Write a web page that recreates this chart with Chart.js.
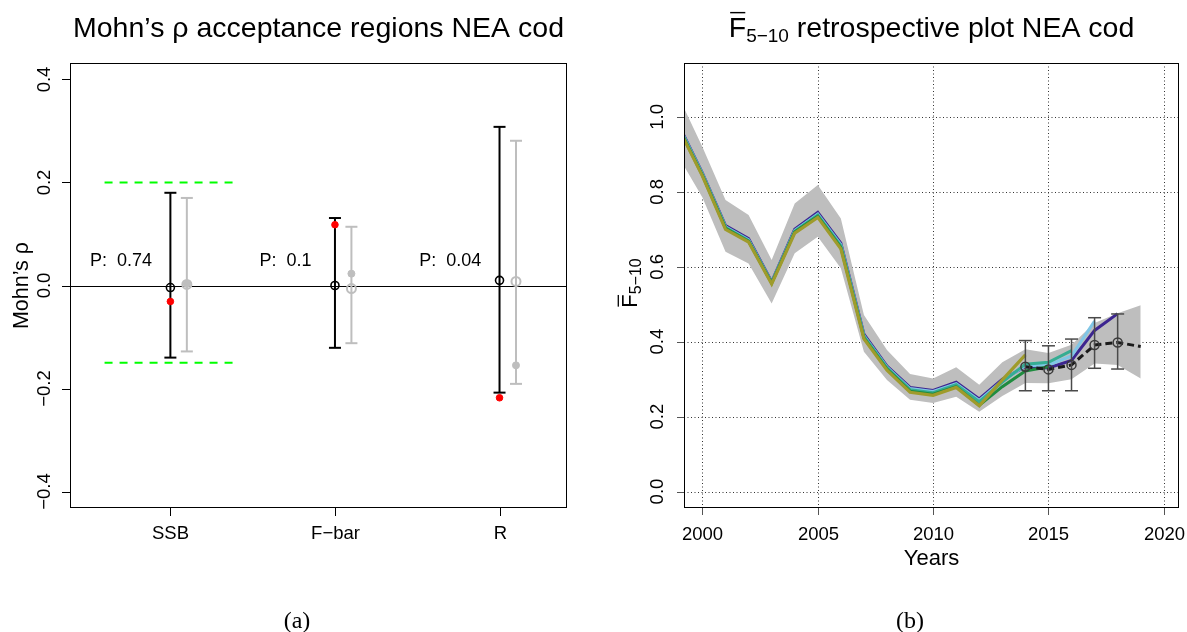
<!DOCTYPE html>
<html><head><meta charset="utf-8">
<script src="https://cdn.jsdelivr.net/npm/chart.js@4.4.1/dist/chart.umd.min.js"></script>
<style>
html,body{margin:0;padding:0;background:#fff;width:1187px;height:632px;overflow:hidden}
canvas{position:absolute;top:0}
#c1{left:0}
#c2{left:593px}
</style></head><body>
<canvas id="c1" width="593" height="632"></canvas>
<canvas id="c2" width="594" height="632"></canvas>
<script>
// ---------- Panel (a): Mohn's rho acceptance regions ----------
const categories = ['SSB', 'F\u2212bar', 'R'];
const pLabels = ['0.74', '0.1', '0.04'];
const baseHi  = [0.180, 0.131, 0.308];
const baseLo  = [-0.140, -0.121, -0.208];
const baseMid = [-0.004, 0.000, 0.010];
const baseRho = [-0.031, 0.118, -0.218];
const altHi   = [0.170, 0.114, 0.281];
const altLo   = [-0.128, -0.112, -0.191];
const altMid  = [0.002, -0.006, 0.008];
const altRho  = [0.003, 0.023, -0.155];
const acceptUpper = 0.20;
const acceptLower = -0.15;
const yTicksA = [-0.4, -0.2, 0.0, 0.2, 0.4];
const yTickLabelsA = ['\u22120.4', '\u22120.2', '0.0', '0.2', '0.4'];

// ---------- Panel (b): F-bar retrospective plot ----------
const years = [1999,2000,2001,2002,2003,2004,2005,2006,2007,2008,2009,2010,2011,2012,2013,2014,2015,2016,2017,2018,2019];
const bandHi = [1.050,0.920,0.778,0.738,0.618,0.769,0.818,0.729,0.471,0.378,0.314,0.302,0.332,0.285,0.345,0.380,0.370,0.392,0.450,0.476,0.497];
const bandLo = [0.890,0.785,0.640,0.609,0.502,0.636,0.680,0.596,0.373,0.298,0.245,0.236,0.253,0.213,0.255,0.290,0.289,0.300,0.342,0.338,0.302];
const peel2018 = [0.975,0.850,0.710,0.675,0.560,0.700,0.745,0.663,0.420,0.335,0.278,0.270,0.292,0.247,0.300,0.333,0.330,0.350,0.430,0.475];
const peel2017 = [0.972,0.848,0.707,0.672,0.558,0.697,0.741,0.659,0.416,0.332,0.275,0.267,0.288,0.243,0.296,0.336,0.338,0.362,0.455];
const peel2016 = [0.970,0.846,0.705,0.670,0.557,0.695,0.738,0.656,0.414,0.330,0.272,0.264,0.285,0.240,0.292,0.340,0.345,0.376];
const peel2015 = [0.967,0.844,0.703,0.668,0.556,0.693,0.735,0.652,0.410,0.327,0.268,0.260,0.280,0.230,0.280,0.322,0.333];
const peel2014 = [0.965,0.842,0.700,0.666,0.554,0.690,0.732,0.648,0.408,0.324,0.265,0.257,0.278,0.229,0.298,0.365];
const fullYears = [2014,2015,2016,2017,2018,2019];
const fullF = [0.333,0.326,0.338,0.391,0.398,0.387];
const errYears = [2014,2015,2016,2017,2018];
const errLo = [0.269,0.269,0.269,0.329,0.327];
const errHi = [0.403,0.389,0.407,0.464,0.474];
const xTicksB = [2000,2005,2010,2015,2020];
const xTickLabelsB = ['2000','2005','2010','2015','2020'];
const yTicksB = [0,0.2,0.4,0.6,0.8,1.0];
const yTickLabelsB = ['0.0','0.2','0.4','0.6','0.8','1.0'];

// ---------- helpers ----------
const FONT = '"Liberation Sans", Arial, Helvetica, sans-serif';
const SERIF = '"Liberation Serif", "DejaVu Serif", serif';

function layered(list){ const n = list.length; list.forEach((d,i)=>{ d.order = n - i; }); return list; }
function errBar(x, lo, hi, color, w, cap){
  return { data:[{x:x,y:lo},{x:x,y:hi}], borderColor:color, borderWidth:w, showLine:true, fill:false,
    pointStyle:'line', pointRadius:cap, pointHoverRadius:cap, pointBorderColor:color, pointBorderWidth:w, pointBackgroundColor:color };
}
function pts(xs, ys, o){
  return { data: xs.map((x,i)=>({x:x,y:ys[i]})), showLine:false, fill:false, borderWidth:0,
    pointStyle:'circle', pointRadius:o.r, pointHoverRadius:o.r, pointBorderWidth:o.bw,
    pointBorderColor:o.stroke, pointBackgroundColor:o.fillc };
}
function series(xs, ys, color, w, extra){
  return Object.assign({ data: ys.map((v,i)=>({x:xs[i],y:v})), borderColor:color, borderWidth:w,
    pointRadius:0, pointHoverRadius:0, fill:false, showLine:true }, extra||{});
}
function drawFbar(ctx, x, y, size, subSize){
  ctx.font = size + 'px ' + FONT;
  ctx.fillText('F', x, y);
  const wF = ctx.measureText('F').width;
  ctx.fillRect(x + size*0.05, y - size*0.88, wF - size*0.08, Math.max(1.3, size*0.05));
  ctx.font = subSize + 'px ' + FONT;
  ctx.fillText('5\u221210', x + wF, y + size*0.18);
  return wF + ctx.measureText('5\u221210').width;
}
function fbarWidth(ctx, size, subSize){
  ctx.font = size + 'px ' + FONT; const a = ctx.measureText('F').width;
  ctx.font = subSize + 'px ' + FONT; return a + ctx.measureText('5\u221210').width;
}

// ---------- Panel (a) ----------
const catPos = categories.map((c,i)=>i+1);
const OFF = 0.1;
const BLACK = '#000000', GREY = '#bebebe';
const dsA = [];
dsA.push(series([catPos[0]-0.4, catPos[0]+0.4], [acceptUpper, acceptUpper], '#00ff00', 2, {borderDash:[8,7]}));
dsA.push(series([catPos[0]-0.4, catPos[0]+0.4], [acceptLower, acceptLower], '#00ff00', 2, {borderDash:[8,7]}));
catPos.forEach((p,i)=>dsA.push(errBar(p+OFF, altLo[i], altHi[i], GREY, 2, 6)));
catPos.forEach((p,i)=>dsA.push(errBar(p, baseLo[i], baseHi[i], BLACK, 2, 6)));
dsA.push(pts(catPos.map(p=>p+OFF), altMid, {r:4.5, bw:2, stroke:GREY, fillc:'rgba(0,0,0,0)'}));
dsA.push(pts(catPos.map(p=>p+OFF), altRho, {r:3.5, bw:1, stroke:GREY, fillc:GREY}));
dsA.push(pts(catPos, baseMid, {r:4, bw:1.6, stroke:BLACK, fillc:'rgba(0,0,0,0)'}));
dsA.push(pts(catPos, baseRho, {r:3.3, bw:1, stroke:'#ff0000', fillc:'#ff0000'}));
layered(dsA);

const pluginA = {
  id:'decorA',
  beforeDatasetsDraw(chart){
    const {ctx, chartArea:a, scales:{y}} = chart;
    ctx.save(); ctx.strokeStyle='#000'; ctx.lineWidth=1;
    const y0 = Math.round(y.getPixelForValue(0)) + 0.5;
    ctx.beginPath(); ctx.moveTo(a.left, y0); ctx.lineTo(a.right, y0); ctx.stroke();
    ctx.restore();
  },
  afterDraw(chart){
    const {ctx, chartArea:a, scales:{x,y}} = chart;
    ctx.save();
    ctx.strokeStyle='#000'; ctx.fillStyle='#000'; ctx.lineWidth=1;
    ctx.strokeRect(a.left+0.5, a.top+0.5, a.right-a.left-1, a.bottom-a.top-1);
    yTicksA.forEach((v,i)=>{
      const py = Math.round(y.getPixelForValue(v)) + 0.5;
      ctx.beginPath(); ctx.moveTo(a.left, py); ctx.lineTo(a.left-8, py); ctx.stroke();
      ctx.save(); ctx.translate(a.left-20.5, y.getPixelForValue(v)); ctx.rotate(-Math.PI/2);
      ctx.font = '18.5px ' + FONT; ctx.textAlign='center'; ctx.textBaseline='alphabetic';
      ctx.fillText(yTickLabelsA[i], 0, 0); ctx.restore();
    });
    ctx.font = '18.5px ' + FONT; ctx.textAlign='center'; ctx.textBaseline='alphabetic';
    categories.forEach((c,i)=>{
      const px = Math.round(x.getPixelForValue(catPos[i])) + 0.5;
      ctx.beginPath(); ctx.moveTo(px, a.bottom); ctx.lineTo(px, a.bottom+8); ctx.stroke();
      ctx.fillText(c, px, a.bottom + 31);
    });
    ctx.font = '18px ' + FONT;
    pLabels.forEach((p,i)=>{
      ctx.fillText('P:  ' + p, x.getPixelForValue(catPos[i]-0.3), y.getPixelForValue(0.05) + 6.5);
    });
    ctx.save(); ctx.translate(28, (a.top+a.bottom)/2); ctx.rotate(-Math.PI/2);
    ctx.font = '21.5px ' + FONT; ctx.textAlign='center'; ctx.fillText("Mohn\u2019s \u03c1", 0, 0); ctx.restore();
    ctx.font = '28.5px ' + FONT; ctx.textAlign='center';
    ctx.fillText("Mohn\u2019s \u03c1 acceptance regions NEA cod", (a.left+a.right)/2, 37);
    ctx.font = '24px ' + SERIF; ctx.fillText('(a)', 297, 628);
    ctx.restore();
  }
};

new Chart(document.getElementById('c1'), {
  type:'line',
  data:{ datasets: dsA },
  options:{
    responsive:false, animation:false, devicePixelRatio:1, events:[],
    layout:{ padding:{ left:70, right:26, top:63, bottom:124 } },
    plugins:{ legend:{display:false}, tooltip:{enabled:false} },
    scales:{
      x:{ type:'linear', min:0.39, max:3.41, display:false },
      y:{ type:'linear', min:-0.432, max:0.432, display:false }
    }
  },
  plugins:[pluginA]
});

// ---------- Panel (b) ----------
const dsB = [];
dsB.push(series(years, bandHi, 'rgba(0,0,0,0)', 0, {fill:'+1', backgroundColor:'#bebebe'}));
dsB.push(series(years, bandLo, 'rgba(0,0,0,0)', 0));
dsB.push(series(years, peel2018, '#3c2590', 3));
dsB.push(series(years, peel2017, '#80c6e6', 3));
dsB.push(series(years, peel2016, '#35ad93', 3));
dsB.push(series(years, peel2015, '#1f8c3f', 3));
dsB.push(series(years, peel2014, '#9f9b2b', 3.2));
dsB.push(series(fullYears, fullF, '#1a1a1a', 3, {borderDash:[7,4]}));
errYears.forEach((yr,i)=>dsB.push(errBar(yr, errLo[i], errHi[i], '#4a4a4a', 1.5, 6.5)));
dsB.push(pts(errYears, fullF.slice(0, errYears.length), {r:4.5, bw:1.5, stroke:'#3a3a3a', fillc:'rgba(0,0,0,0)'}));
layered(dsB);

const pluginB = {
  id:'decorB',
  beforeDatasetsDraw(chart){
    const {ctx, chartArea:a, scales:{x,y}} = chart;
    ctx.save(); ctx.strokeStyle='#333'; ctx.lineWidth=1; ctx.setLineDash([1,2.5]);
    xTicksB.forEach(v=>{
      const px = Math.round(x.getPixelForValue(v)) + 0.5;
      ctx.beginPath(); ctx.moveTo(px, a.top); ctx.lineTo(px, a.bottom); ctx.stroke();
    });
    yTicksB.forEach(v=>{
      const py = Math.round(y.getPixelForValue(v)) + 0.5;
      ctx.beginPath(); ctx.moveTo(a.left, py); ctx.lineTo(a.right, py); ctx.stroke();
    });
    ctx.restore();
  },
  afterDraw(chart){
    const {ctx, chartArea:a, scales:{x,y}} = chart;
    ctx.save();
    ctx.strokeStyle='#000'; ctx.fillStyle='#000'; ctx.lineWidth=1;
    ctx.strokeRect(a.left+0.5, a.top+0.5, a.right-a.left-1, a.bottom-a.top-1);
    ctx.strokeStyle='#555';
    yTicksB.forEach((v,i)=>{
      const py = Math.round(y.getPixelForValue(v)) + 0.5;
      ctx.beginPath(); ctx.moveTo(a.left, py); ctx.lineTo(a.left-7, py); ctx.stroke();
      ctx.save(); ctx.translate(a.left-21.5, y.getPixelForValue(v)); ctx.rotate(-Math.PI/2);
      ctx.font = '18.5px ' + FONT; ctx.textAlign='center'; ctx.fillText(yTickLabelsB[i], 0, 0); ctx.restore();
    });
    ctx.font = '18.5px ' + FONT; ctx.textAlign='center';
    xTicksB.forEach((v,i)=>{
      const px = Math.round(x.getPixelForValue(v)) + 0.5;
      ctx.beginPath(); ctx.moveTo(px, a.bottom); ctx.lineTo(px, a.bottom+7); ctx.stroke();
      ctx.fillText(xTickLabelsB[i], px, a.bottom + 31.5);
    });
    ctx.font = '22px ' + FONT;
    ctx.fillText('Years', (a.left+a.right)/2, a.bottom + 57);
    ctx.save(); ctx.translate(44, 283); ctx.rotate(-Math.PI/2); ctx.textAlign='left';
    const wy = fbarWidth(ctx, 22, 16);
    drawFbar(ctx, -wy/2, 0, 22, 16);
    ctx.restore();
    ctx.textAlign='left';
    const wT = fbarWidth(ctx, 28.5, 19);
    ctx.font = '28.5px ' + FONT;
    const rest = ' retrospective plot NEA cod';
    const wR = ctx.measureText(rest).width;
    const x0 = (a.left+a.right)/2 - (wT+wR)/2;
    drawFbar(ctx, x0, 37, 28.5, 19);
    ctx.font = '28.5px ' + FONT;
    ctx.fillText(rest, x0 + wT, 37);
    ctx.textAlign='center';
    ctx.font = '24px ' + SERIF; ctx.fillText('(b)', 317, 628);
    ctx.restore();
  }
};

new Chart(document.getElementById('c2'), {
  type:'line',
  data:{ datasets: dsB },
  options:{
    responsive:false, animation:false, devicePixelRatio:1, events:[],
    layout:{ padding:{ left:91, right:6, top:63, bottom:124 } },
    plugins:{ legend:{display:false}, tooltip:{enabled:false}, filler:{propagate:false} },
    scales:{
      x:{ type:'linear', min:1999.2, max:2020.66, display:false },
      y:{ type:'linear', min:-0.044, max:1.144, display:false }
    }
  },
  plugins:[pluginB]
});
</script>
</body></html>
